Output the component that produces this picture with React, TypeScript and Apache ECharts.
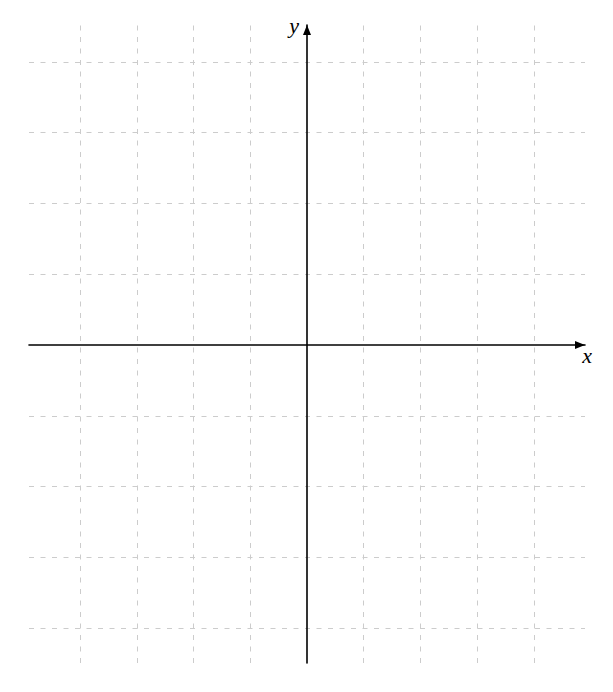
import React, { useEffect, useRef } from "react";
import * as echarts from "echarts";

const xRange = [-4.9, 4.9];
const yRange = [-4.49, 4.52];
const gridXs = [-4, -3, -2, -1, 1, 2, 3, 4];
const gridYs = [-4, -3, -2, -1, 1, 2, 3, 4];
const axisNames = ["x", "y"];

export default function App() {
  const ref = useRef<HTMLDivElement>(null);
  useEffect(() => {
    if (!ref.current) return;
    const chart = echarts.init(ref.current, null, { renderer: "svg" });
    const gridStyle = { color: "#cccccc", width: 1, type: [5, 6.5] as any };
    const axisCommon = {
      type: "value" as const,
      axisLine: {
        show: true,
        onZero: true,
        symbol: ["none", "triangle"],
        symbolSize: [8, 10],
        symbolOffset: [0, -5],
        lineStyle: { color: "#000", width: 1.6 },
      },
      axisTick: { show: false },
      axisLabel: { show: false },
      splitLine: { show: false },
      z: 5,
    };
    chart.setOption({
      animation: false,
      backgroundColor: "#fff",
      grid: { left: 29, right: 28, top: 25, bottom: 29 },
      xAxis: { ...axisCommon, min: xRange[0], max: xRange[1] },
      yAxis: { ...axisCommon, min: yRange[0], max: yRange[1] },
      series: [
        {
          type: "line",
          data: [],
          silent: true,
          markLine: {
            silent: true,
            symbol: ["none", "none"],
            label: { show: false },
            lineStyle: gridStyle,
            emphasis: { disabled: true },
            data: [
              ...gridXs.map((v) => ({ xAxis: v })),
              ...gridYs.map((v) => ({ yAxis: v })),
            ],
          },
        },
      ],
      graphic: [
        {
          type: "text",
          x: 299,
          y: 25,
          style: {
            text: axisNames[1],
            font: "italic 22px 'Liberation Serif', serif",
            fill: "#000",
            align: "right",
            verticalAlign: "middle",
          },
        },
        {
          type: "text",
          x: 587,
          y: 355,
          style: {
            text: axisNames[0],
            font: "italic 22px 'Liberation Serif', serif",
            fill: "#000",
            align: "center",
            verticalAlign: "middle",
          },
        },
      ],
    });
    return () => chart.dispose();
  }, []);
  return (
    <div
      ref={ref}
      style={{ position: "fixed", left: 0, top: 0, width: 613, height: 692, background: "#fff" }}
    />
  );
}
